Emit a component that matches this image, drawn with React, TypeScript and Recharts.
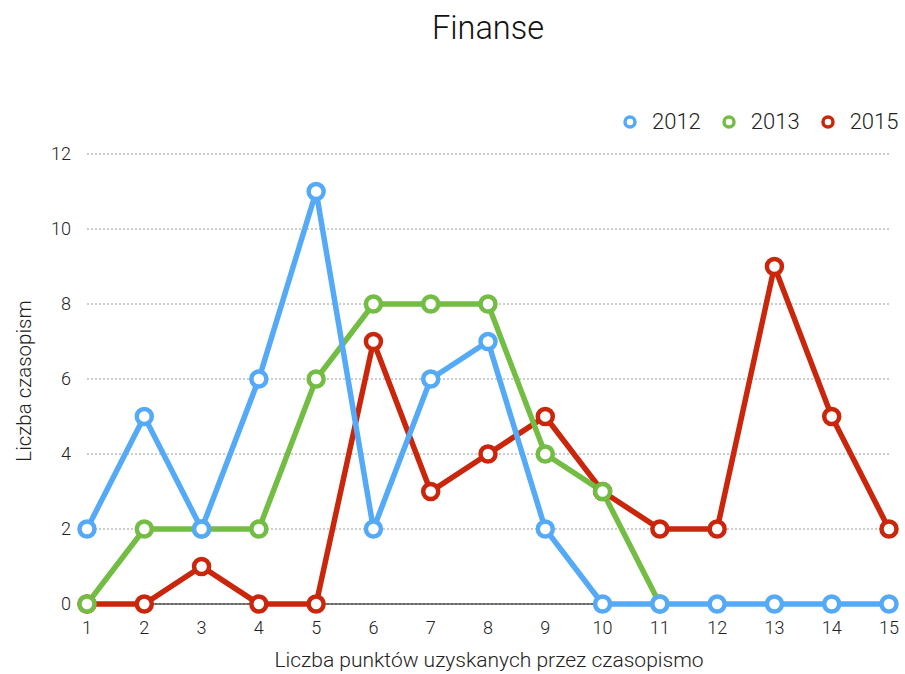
import React from 'react';
import { LineChart, Line, XAxis, YAxis, CartesianGrid } from 'recharts';

const points = [1, 2, 3, 4, 5, 6, 7, 8, 9, 10, 11, 12, 13, 14, 15];
const s2012 = [2, 5, 2, 6, 11, 2, 6, 7, 2, 0, 0, 0, 0, 0, 0];
const s2013: (number | null)[] = [0, 2, 2, 2, 6, 8, 8, 8, 4, 3, 0, null, null, null, null];
const s2015 = [0, 0, 1, 0, 0, 7, 3, 4, 5, 3, 2, 2, 9, 5, 2];
const yTicks = [0, 2, 4, 6, 8, 10, 12];

const seriesInfo = [
  { key: 'y2012', name: '2012', color: '#55aaf7' },
  { key: 'y2013', name: '2013', color: '#74bd44' },
  { key: 'y2015', name: '2015', color: '#c9260b' },
];

const data = points.map((x, i) => ({ x, y2012: s2012[i], y2013: s2013[i], y2015: s2015[i] }));

const FONT = '"Helvetica Neue", Roboto, "Open Sans", sans-serif';

const dot = (color: string) => ({ r: 7.5, fill: '#fff', stroke: color, strokeWidth: 4.5 });

const baselineGen = (props: any) => {
  const ya = props && props.yAxis;
  if (ya && typeof ya.scale === 'function') return [ya.scale(0)];
  const off = props && props.offset;
  if (off) return [off.top + off.height];
  return [];
};

export default function App() {
  return (
    <div style={{ position: 'absolute', left: 0, top: 0, width: 905, height: 674, background: '#fff' }}>
      <div style={{ position: 'absolute', left: 0, width: 976, top: 9, textAlign: 'center', fontFamily: FONT, fontWeight: 300, fontSize: 32.5, color: '#111' }}>
        Finanse
      </div>
      <div style={{ position: 'absolute', left: 0, width: 978, top: 648, textAlign: 'center', fontFamily: FONT, fontWeight: 300, fontSize: 21, color: '#222' }}>
        Liczba punktów uzyskanych przez czasopismo
      </div>
      <div style={{ position: 'absolute', left: 24, top: 381, width: 0, height: 0 }}>
        <div style={{ position: 'absolute', transform: 'translate(-50%, -50%) rotate(-90deg)', whiteSpace: 'nowrap', fontFamily: FONT, fontWeight: 300, fontSize: 20.5, color: '#222' }}>
          Liczba czasopism
        </div>
      </div>
      <div style={{ position: 'absolute', top: 109, left: 621, width: 300, display: 'flex', flexWrap: 'nowrap', alignItems: 'center', fontFamily: FONT, fontWeight: 300, fontSize: 22, color: '#222' }}>
        {seriesInfo.map((s) => (
          <div key={s.key} style={{ display: 'flex', alignItems: 'center', marginRight: 19, flexShrink: 0 }}>
            <svg width={18} height={18} style={{ marginRight: 13 }}>
              <circle cx={9} cy={9} r={5} fill="#fff" stroke={s.color} strokeWidth={3.5} />
            </svg>
            <span>{s.name}</span>
          </div>
        ))}
      </div>
      <LineChart width={905} height={674} data={data} margin={{ top: 154, right: 16, bottom: 10, left: 27 }}>
        <CartesianGrid vertical={false} stroke="#999" strokeDasharray="2 2" />
        <CartesianGrid vertical={false} stroke="#000" horizontalCoordinatesGenerator={baselineGen} />
        <XAxis
          dataKey="x"
          type="number"
          domain={[1, 15]}
          ticks={points}
          interval={0}
          height={60}
          tickLine={false}
          tickSize={0}
          tickMargin={17}
          axisLine={false}
          tick={{ fill: '#222', fontSize: 18, fontFamily: FONT, fontWeight: 300 }}
        />
        <YAxis
          type="number"
          domain={[0, 12]}
          ticks={yTicks}
          width={60}
          axisLine={false}
          tickLine={false}
          tickSize={0}
          tickMargin={16}
          tick={{ fill: '#222', fontSize: 18, fontFamily: FONT, fontWeight: 300 }}
        />
        <Line dataKey="y2015" name="2015" stroke="#c9260b" strokeWidth={5.5} dot={dot('#c9260b')} activeDot={false} isAnimationActive={false} />
        <Line dataKey="y2013" name="2013" stroke="#74bd44" strokeWidth={5.5} dot={dot('#74bd44')} activeDot={false} isAnimationActive={false} />
        <Line dataKey="y2012" name="2012" stroke="#55aaf7" strokeWidth={5.5} dot={dot('#55aaf7')} activeDot={false} isAnimationActive={false} />
      </LineChart>
    </div>
  );
}
